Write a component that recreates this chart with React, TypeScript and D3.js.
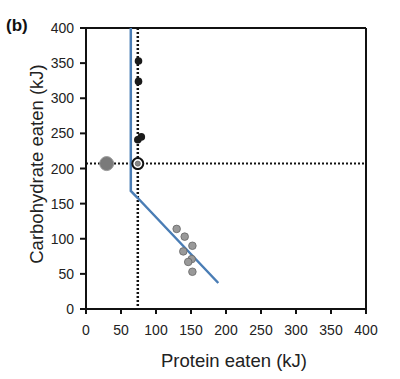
import React from "react";
import * as d3 from "d3";

const xTicks = [0, 50, 100, 150, 200, 250, 300, 350, 400];
const yTicks = [0, 50, 100, 150, 200, 250, 300, 350, 400];

// blue rule-of-compromise line
const lineX = [64, 64, 74, 189];
const lineY = [400, 168, 158, 37];

// black dots (single-food treatments)
const blackX = [75, 75, 74, 79];
const blackY = [353, 324, 241, 245];

// gray dots (mixed treatments)
const grayX = [129.5, 141, 152, 139, 151, 146, 152];
const grayY = [114, 103, 90, 82, 71, 67, 53];

// intake target
const targetX = 74;
const targetY = 207;
// big gray dot
const bigX = 29.5;
const bigY = 207;

export default function App() {
  const W = 400, H = 379;
  const x = d3.scaleLinear().domain([0, 400]).range([86, 366]);
  const y = d3.scaleLinear().domain([0, 400]).range([309, 28]);
  const line = d3
    .line<number>()
    .x((_, i) => x(lineX[i]))
    .y((_, i) => y(lineY[i]));
  const font = "'Liberation Sans', Arial, Helvetica, sans-serif";
  const tc = "#222";
  return (
    <svg width={W} height={H} style={{ position: "absolute", left: 0, top: 0, background: "#fff" }} fontFamily={font}>
      {/* box */}
      <line x1={x(0)} x2={x(400)} y1={y(400)} y2={y(400)} stroke="#111" strokeWidth={2} />
      <line x1={x(400)} x2={x(400)} y1={y(400)} y2={y(0)} stroke="#111" strokeWidth={2} />
      <line x1={x(0)} x2={x(400)} y1={y(0)} y2={y(0)} stroke="#111" strokeWidth={2} />
      <line x1={x(0)} x2={x(0)} y1={y(400)} y2={y(0)} stroke="#111" strokeWidth={2} />
      {/* ticks */}
      {xTicks.map((t) => (
        <g key={"x" + t}>
          <line x1={x(t)} x2={x(t)} y1={y(0)} y2={y(0) + 5} stroke="#111" strokeWidth={2} />
          <text x={x(t)} y={y(0) + 26} textAnchor="middle" fontSize={14} fill={tc}>{t}</text>
        </g>
      ))}
      {yTicks.map((t) => (
        <g key={"y" + t}>
          <line x1={x(0) - 6} x2={x(0)} y1={y(t)} y2={y(t)} stroke="#111" strokeWidth={2} />
          <text x={x(0) - 12} y={y(t) + 5} textAnchor="end" fontSize={14} fill={tc}>{t}</text>
        </g>
      ))}
      {/* dotted reference lines */}
      <line x1={x(0)} x2={x(400)} y1={y(targetY)} y2={y(targetY)} stroke="#111" strokeWidth={2} strokeDasharray="2,2" />
      <line x1={x(targetX)} x2={x(targetX)} y1={y(400)} y2={y(0)} stroke="#111" strokeWidth={2.5} strokeDasharray="2,2" />
      {/* blue line */}
      <path d={line(lineX) || ""} fill="none" stroke="#4a7db5" strokeWidth={2.5} />
      {/* gray dots */}
      {grayX.map((v, i) => (
        <circle key={"g" + i} cx={x(v)} cy={y(grayY[i])} r={3.8} fill="#999" stroke="#666" strokeWidth={0.8} />
      ))}
      {/* black dots */}
      {blackX.map((v, i) => (
        <circle key={"b" + i} cx={x(v)} cy={y(blackY[i])} r={3.8} fill="#1a1a1a" />
      ))}
      {/* big gray dot */}
      <circle cx={x(bigX)} cy={y(bigY)} r={7} fill="#7a7a7a" stroke="#999" strokeWidth={1} />
      {/* target */}
      <circle cx={x(targetX)} cy={y(targetY)} r={5.5} fill="#fff" stroke="#111" strokeWidth={2} />
      <circle cx={x(targetX)} cy={y(targetY)} r={2.6} fill="#888" stroke="#555" strokeWidth={0.6} />
      {/* titles */}
      <text x={234} y={367} textAnchor="middle" fontSize={18.5} fill={tc}>Protein eaten (kJ)</text>
      <text transform={`translate(43,164) rotate(-90)`} textAnchor="middle" fontSize={18.5} fill={tc}>Carbohydrate eaten (kJ)</text>
      <text x={6} y={31} fontSize={17} fontWeight="bold" fill="#111">(b)</text>
    </svg>
  );
}
